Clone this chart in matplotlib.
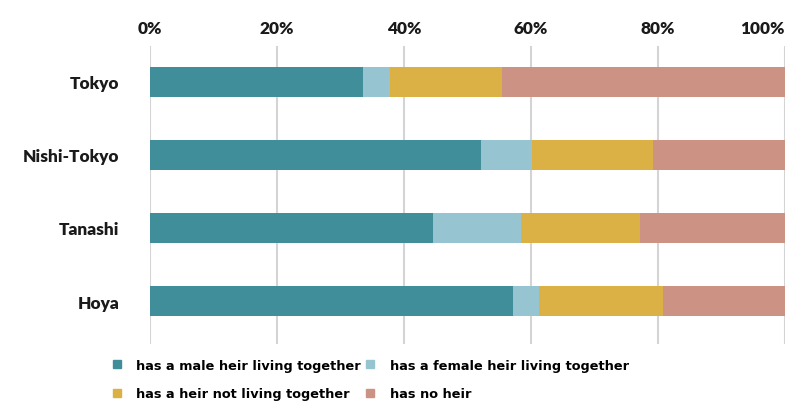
import matplotlib
matplotlib.use('Agg')
import matplotlib.pyplot as plt
from matplotlib.lines import Line2D
import numpy as np

# valeurs (en %)
cities = ['Tokyo', 'Nishi-Tokyo', 'Tanashi', 'Hoya']
male_together = [33.5, 52.1, 44.6, 57.1]
female_together = [4.3, 8.0, 13.8, 4.1]
not_together = [17.7, 19.1, 18.7, 19.6]
no_heir = [44.5, 20.8, 22.9, 19.2]

labels = ['has a male heir living together', 'has a female heir living together',
          'has a heir not living together', 'has no heir']
colors = ['#3f8e99', '#97c4d1', '#dbb045', '#cc9283']
xticks = [0, 20, 40, 60, 80, 100]

fig = plt.figure(figsize=(7.98, 4.06), dpi=100)
ax = fig.add_axes([150 / 798, 1 - 345 / 406, 635 / 798, 298 / 406])

y = np.arange(len(cities))
left = np.zeros(len(cities))
for vals, c in zip([male_together, female_together, not_together, no_heir], colors):
    ax.barh(y, vals, left=left, height=0.4, color=c, zorder=3)
    left += np.array(vals)

tick_font = {'family': 'Lato', 'weight': 'heavy', 'size': 12.4}
ax.set_xlim(0, 100)
ax.set_ylim(3.589, -0.493)
ax.set_yticks(y)
ax.set_yticklabels(cities, **tick_font)
ax.set_xticks(xticks)
ax.set_xticklabels([f'{t}%' for t in xticks], **tick_font)
ax.xaxis.tick_top()
ax.xaxis.get_major_ticks()[-1].label2.set_horizontalalignment('right')
ax.tick_params(axis='both', length=0, colors='#1a1a1a')
ax.tick_params(axis='x', pad=7.5)
ax.tick_params(axis='y', pad=22)
ax.grid(axis='x', color='#d4d4d4', linewidth=1.5, zorder=0)
for s in ax.spines.values():
    s.set_visible(False)

handles = [Line2D([], [], marker='s', linestyle='', color=c, markersize=6) for c in colors]
order = [0, 2, 1, 3]
fig.legend([handles[i] for i in order], [labels[i] for i in order],
           loc='upper left', bbox_to_anchor=(99 / 798, 1 - 348 / 406), ncol=2,
           frameon=False, handlelength=1.0, handletextpad=1.0, columnspacing=0.2,
           labelspacing=1.2, prop={'family': 'Liberation Sans Narrow', 'weight': 'bold', 'size': 9.3})

fig.savefig('out.png', dpi=100)
